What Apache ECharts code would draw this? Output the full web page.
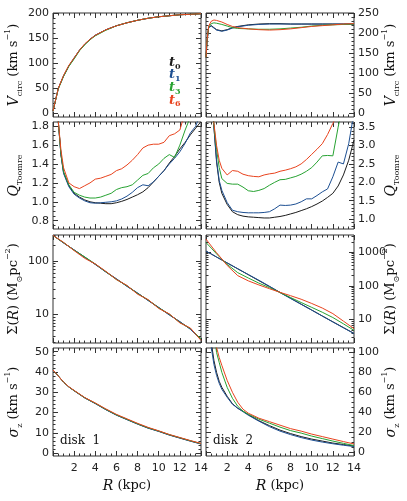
<!DOCTYPE html>
<html>
<head>
<meta charset="utf-8">
<script src="https://cdn.jsdelivr.net/npm/echarts@6/dist/echarts.min.js"></script>
<style>
  html, body { margin: 0; padding: 0; background: #fff; }
  #chart { width: 407px; height: 501px; }
</style>
</head>
<body>
<div id="chart"></div>
<script>
// ---- data (R in kpc) ----
const SNAPS = ['0', '1', '3', '6']

// disk 1 circular velocity
const R_VC1 = [0, 0.5, 1, 1.5, 2, 2.5, 3, 3.5, 4, 5, 6, 7, 8, 9, 10, 11, 12, 13, 14]
const VC1_T0 = [5, 50, 75, 95, 110, 126, 138, 148, 156, 167, 175, 181, 186, 190, 193, 195, 197, 198, 199]
const VC1_T1 = [5, 50, 75, 95, 111, 126, 138, 148, 156, 167, 175, 181, 186, 190, 193, 195, 197, 198, 199]
const VC1_T3 = [5, 49, 74, 94, 109, 125, 137, 147, 155, 166, 175, 181, 186, 190, 193, 195, 197, 198, 199]
const VC1_T6 = [5, 50, 76, 96, 111, 126, 139, 148, 156, 167, 175, 181, 186, 190, 193, 195, 197, 198, 199]

// disk 2 circular velocity
const R_VC2 = [0, 0.1, 0.25, 0.5, 0.75, 1, 1.5, 2, 2.5, 3, 4, 5, 6, 7, 8, 9, 10, 11, 12, 13, 14]
const VC2_T0 = [140, 180, 215, 219, 214, 209, 206, 209, 214, 217, 221, 223, 224, 224, 223, 223, 223, 223, 223, 223, 223]
const VC2_T1 = [140, 181, 214, 218, 213, 208, 205, 208, 213, 216, 220, 222, 223, 223, 223, 223, 223, 223, 223, 223, 223]
const VC2_T3 = [140, 182, 215, 224, 226, 225, 222, 218, 214, 212, 211, 210, 210, 211, 213, 215, 218, 220, 221, 222, 223]
const VC2_T6 = [140, 183, 218, 230, 233, 232, 228, 222, 217, 214, 211, 209, 208, 209, 211, 214, 217, 219, 221, 223, 224]

// disk 1 Toomre Q
const R_Q1 = [0.25, 0.5, 0.75, 1, 1.5, 2, 2.5, 3, 3.5, 4, 4.5, 5, 5.5, 6, 6.5, 7, 7.5, 8, 8.5, 9, 9.5, 10, 10.5, 11, 11.5, 12, 12.5, 13, 13.5, 14]
const Q1_T0 = [3.0, 1.85, 1.5, 1.31, 1.17, 1.09, 1.05, 1.02, 1.0, 0.99, 0.985, 0.98, 0.98, 0.99, 1.005, 1.025, 1.05, 1.075, 1.105, 1.15, 1.21, 1.27, 1.33, 1.41, 1.48, 1.56, 1.63, 1.71, 1.78, 1.85]
const Q1_T1 = [3.0, 1.85, 1.5, 1.3, 1.16, 1.08, 1.04, 1.01, 0.99, 0.985, 0.99, 0.995, 1.0, 1.01, 1.03, 1.06, 1.1, 1.15, 1.18, 1.17, 1.21, 1.27, 1.33, 1.4, 1.46, 1.53, 1.62, 1.73, 1.8, 1.95]
const Q1_T3 = [3.0, 1.85, 1.51, 1.32, 1.18, 1.1, 1.07, 1.05, 1.04, 1.04, 1.05, 1.07, 1.09, 1.13, 1.15, 1.16, 1.18, 1.23, 1.28, 1.3, 1.36, 1.4, 1.46, 1.5, 1.47, 1.6, 1.76, 1.9, 2.0, 2.1]
const Q1_T6 = [3.0, 1.85, 1.55, 1.36, 1.2, 1.16, 1.14, 1.17, 1.2, 1.24, 1.25, 1.27, 1.29, 1.33, 1.35, 1.39, 1.44, 1.5, 1.57, 1.6, 1.61, 1.61, 1.63, 1.7, 1.72, 1.76, 1.95, 2.1, 2.2, 2.3]

// disk 2 Toomre Q
const R_Q2 = [0.1, 0.25, 0.5, 0.75, 1, 1.25, 1.5, 2, 2.5, 3, 3.5, 4, 4.5, 5, 5.5, 6, 6.5, 7, 7.5, 8, 8.5, 9, 9.5, 10, 10.5, 11, 11.5, 12, 12.5, 13, 13.5, 14]
const Q2_T0 = [6, 5.5, 4.5, 3.5, 2.55, 2.0, 1.7, 1.4, 1.2, 1.12, 1.08, 1.06, 1.05, 1.04, 1.03, 1.03, 1.05, 1.07, 1.1, 1.14, 1.18, 1.23, 1.28, 1.34, 1.41, 1.49, 1.59, 1.7, 1.9, 2.2, 2.6, 3.15]
const Q2_T1 = [6, 5.5, 4.5, 3.5, 2.6, 2.05, 1.78, 1.45, 1.24, 1.2, 1.18, 1.17, 1.17, 1.17, 1.18, 1.2, 1.28, 1.38, 1.37, 1.38, 1.41, 1.47, 1.55, 1.55, 1.64, 1.74, 1.82, 2.15, 2.55, 2.5, 3.05, 3.9]
const Q2_T3 = [6, 5.5, 4.6, 3.55, 2.9, 2.4, 2.1, 1.97, 1.95, 1.95, 1.87, 1.77, 1.75, 1.78, 1.83, 1.92, 2.0, 2.07, 2.08, 2.12, 2.16, 2.22, 2.3, 2.4, 2.55, 2.72, 2.73, 2.72, 3.5, 4.2, 4.5, 4.8]
const Q2_T6 = [6, 5.5, 4.7, 3.6, 3.0, 2.6, 2.38, 2.2, 2.32, 2.3, 2.22, 2.18, 2.16, 2.15, 2.2, 2.23, 2.25, 2.3, 2.33, 2.37, 2.42, 2.5, 2.62, 2.76, 2.9, 3.05, 3.3, 3.6, 3.9, 4.2, 4.5, 4.8]

// disk 1 surface density
const R_S1 = [0, 1, 2, 3, 4, 5, 6, 7, 8, 9, 10, 11, 12, 13, 14]
const S1_T0 = [300, 218, 160, 118, 86, 63, 46, 34, 25, 18.5, 13.5, 10, 7.3, 5.4, 3.5]
const S1_T1 = [302, 216, 161, 117, 87, 62, 46.5, 33.5, 25.3, 18.2, 13.6, 9.8, 7.4, 5.3, 3.4]
const S1_T3 = [298, 220, 158, 119, 88, 63, 45, 34.5, 24.6, 18.8, 13.3, 10.2, 7.1, 5.5, 3.5]
const S1_T6 = [300, 222, 156, 112, 88, 64, 45, 35, 24, 19, 13, 10.3, 7.0, 5.6, 3.3]

// disk 2 surface density
const R_S2 = [0, 0.5, 1, 1.5, 2, 3, 4, 5, 6, 7, 8, 9, 10, 11, 12, 13, 14]
const S2_T0 = [1060, 870, 709, 580, 475, 318, 213, 142, 95, 64, 43, 28.6, 19.2, 12.8, 8.6, 5.8, 3.9]
const S2_T1 = [1060, 870, 709, 580, 475, 320, 215, 146, 97, 63, 42, 28.3, 19, 12.7, 8.5, 5.7, 3.85]
const S2_T3 = [1900, 1300, 880, 610, 430, 245, 170, 120, 88, 63, 45, 32, 23, 16.5, 11.5, 7.5, 4.8]
const S2_T6 = [2400, 1500, 950, 620, 400, 200, 140, 106, 82, 64, 51, 40, 30, 22, 15, 9, 5.4]

// disk 1 vertical dispersion
const R_SZ1 = [0, 0.5, 1, 1.5, 2, 3, 4, 5, 6, 7, 8, 9, 10, 11, 12, 13, 14]
const SZ1_T0 = [41, 38, 35, 32.6, 30.8, 27.3, 24.5, 21.5, 18.8, 16.6, 14.4, 12.4, 10.8, 9.0, 7.5, 6.0, 4.6]
const SZ1_T1 = [41, 38, 35, 32.6, 30.7, 27.2, 24.4, 21.4, 18.7, 16.5, 14.3, 12.3, 10.7, 8.9, 7.4, 5.9, 4.5]
const SZ1_T3 = [41, 38, 35, 32.6, 30.8, 27.3, 24.6, 21.6, 18.9, 16.7, 14.5, 12.5, 10.9, 9.1, 7.6, 6.1, 4.7]
const SZ1_T6 = [41, 38, 35, 32.7, 30.9, 27.4, 24.7, 21.8, 19.1, 16.9, 14.7, 12.7, 11.0, 9.2, 7.7, 6.2, 4.8]

// disk 2 vertical dispersion
const R_SZ2 = [0.25, 0.5, 0.75, 1, 1.25, 1.5, 2, 2.5, 3, 3.5, 4, 5, 6, 7, 8, 9, 10, 11, 12, 13, 14]
const SZ2_T0 = [150, 110, 92, 80, 71, 65, 56, 48.5, 44, 41, 37.5, 31.5, 26.5, 22, 18.5, 15.5, 13, 11, 9, 7.5, 6]
const SZ2_T1 = [140, 105, 88, 77, 69, 63, 55, 48, 44, 40.5, 37, 31, 25.5, 21, 17.5, 14.5, 12, 10, 8.3, 6.8, 5.5]
const SZ2_T3 = [180, 150, 120, 100, 90, 80, 65, 54, 46, 41, 38, 33, 29, 25, 21.5, 19, 16, 13.5, 11, 8.7, 6.5]
const SZ2_T6 = [200, 170, 135, 105, 95, 87, 72, 60, 50, 43, 39, 34, 30.5, 27, 23.5, 21, 18, 15.5, 13, 10.5, 8.1]

// axis tick labels
const X_LABELS = [2, 4, 6, 8, 10, 12, 14]
const VC1_TICKS = [0, 50, 100, 150, 200]
const VC2_TICKS = [0, 50, 100, 150, 200, 250]
const Q1_TICKS = [0.8, 1.0, 1.2, 1.4, 1.6, 1.8]
const Q2_TICKS = [1.0, 1.5, 2.0, 2.5, 3.0, 3.5]
const S1_TICKS = [10, 100]
const S2_TICKS = [10, 100, 1000]
const SZ1_TICKS = [0, 10, 20, 30, 40, 50]
const SZ2_TICKS = [0, 20, 40, 60, 80, 100]

const COLORS = ['#1c1c1c', '#1d4f92', '#27a232', '#e8431e']
const INK = '#333'
const SERIF = 'DejaVu Serif'

function steps(a, b, s) {
  const out = []
  for (let v = a; v <= b + 1e-9; v += s) out.push(Math.round(v * 1000) / 1000)
  return out
}
function logMinors(lo, hi) {
  const out = []
  for (let d = 1; d <= 1000; d *= 10) {
    for (let m = 2; m <= 9; m++) {
      const v = m * d
      if (v >= lo && v <= hi) out.push(Math.log10(v))
    }
  }
  return out
}

const RICH = {
  n: { fontFamily: SERIF, fontSize: 13, lineHeight: 20, color: '#111' },
  it: { fontFamily: SERIF, fontStyle: 'italic', fontSize: 14, lineHeight: 20, color: '#111' },
  sub: { fontFamily: SERIF, fontSize: 8, lineHeight: 11, verticalAlign: 'bottom', color: '#111' },
  sup: { fontFamily: SERIF, fontSize: 8, lineHeight: 11, verticalAlign: 'top', color: '#111' }
}
const T_VC = '{it|V}{sub|circ}{n| (km s}{sup|−1}{n|)}'
const T_Q = '{it|Q}{sub|Toomre}'
const T_S = '{n|Σ(}{it|R}{n|) (M}{sub|⊙}{n|pc}{sup|−2}{n|)}'
const T_SZ = '{it|σ}{sub|z}{n| (km s}{sup|−1}{n|)}'

const fmt1 = v => v.toFixed(1)
const fmt0 = v => String(v)
const fmtLog = v => String(Math.round(Math.pow(10, v)))

const PANELS = [
  { r: R_VC1, ys: [VC1_T0, VC1_T1, VC1_T3, VC1_T6], min: -7, max: 200.5, ticks: VC1_TICKS, minors: steps(0, 200, 10), fmt: fmt0, title: T_VC },
  { r: R_VC2, ys: [VC2_T0, VC2_T1, VC2_T3, VC2_T6], min: -8.5, max: 250.5, ticks: VC2_TICKS, minors: steps(0, 250, 10), fmt: fmt0, title: T_VC },
  { r: R_Q1, ys: [Q1_T0, Q1_T1, Q1_T3, Q1_T6], min: 0.712, max: 1.845, ticks: Q1_TICKS, minors: steps(0.75, 1.8, 0.05), fmt: fmt1, title: T_Q },
  { r: R_Q2, ys: [Q2_T0, Q2_T1, Q2_T3, Q2_T6], min: 0.73, max: 3.64, ticks: Q2_TICKS, minors: steps(0.8, 3.6, 0.1), fmt: fmt1, title: T_Q },
  { r: R_S1, ys: [S1_T0, S1_T1, S1_T3, S1_T6], log: true, min: 2.95, max: 305, ticks: S1_TICKS, fmt: fmtLog, title: T_S },
  { r: R_S2, ys: [S2_T0, S2_T1, S2_T3, S2_T6], log: true, min: 2.03, max: 3180, ticks: S2_TICKS, fmt: fmtLog, title: T_S },
  { r: R_SZ1, ys: [SZ1_T0, SZ1_T1, SZ1_T3, SZ1_T6], min: -1.4, max: 51.8, ticks: SZ1_TICKS, minors: steps(0, 50, 2), fmt: fmt0, title: T_SZ },
  { r: R_SZ2, ys: [SZ2_T0, SZ2_T1, SZ2_T3, SZ2_T6], min: -4, max: 104.5, ticks: SZ2_TICKS, minors: steps(0, 100, 5), fmt: fmt0, title: T_SZ }
]

const COLS = [{ left: 53, width: 148 }, { left: 206, width: 148 }]
const ROWS = [{ top: 13, height: 104 }, { top: 122, height: 107 }, { top: 235, height: 108 }, { top: 348, height: 108 }]

function tickAxis(grid, pos, min, max, ticks, len, labels, fmt, extra) {
  const isX = pos === 'top' || pos === 'bottom'
  return Object.assign({
    type: 'value', gridIndex: grid, position: pos, min: min, max: max,
    axisLine: { show: false, onZero: false },
    splitLine: { show: false },
    axisTick: { show: true, inside: true, length: len, customValues: ticks, lineStyle: { color: INK, width: 1 } },
    axisLabel: labels ? {
      show: true, customValues: labels, formatter: fmt,
      margin: isX ? 7 : 4, fontFamily: 'DejaVu Sans', fontSize: 11, color: '#222'
    } : { show: false },
    nameMoveOverlap: false
  }, extra || {})
}

const grids = [], xAxes = [], yAxes = [], series = []

PANELS.forEach((p, i) => {
  const col = COLS[i % 2], row = ROWS[Math.floor(i / 2)]
  const right = i % 2 === 1, bottom = i >= 6
  grids.push({
    left: col.left, top: row.top, width: col.width, height: row.height,
    show: true, borderColor: INK, borderWidth: 1, backgroundColor: 'transparent',
    outerBoundsMode: 'none'
  })
  const xi = xAxes.length, yi = yAxes.length
  // data axes (hidden)
  xAxes.push({ type: 'value', gridIndex: i, min: 0, max: 14, show: false, axisLine: { onZero: false } })
  yAxes.push({ type: p.log ? 'log' : 'value', logBase: 10, gridIndex: i, min: p.min, max: p.max, show: false, axisLine: { onZero: false } })

  // x ticks, both edges
  const xMaj = steps(0, 14, 2), xMin = steps(0, 14, 0.5)
  const xName = bottom ? {
    name: '{it|R}{n| (kpc)}', nameLocation: 'middle', nameGap: 20,
    nameTextStyle: { rich: RICH, lineHeight: 20 }
  } : {}
  xAxes.push(tickAxis(i, 'bottom', 0, 14, xMaj, 5, bottom ? X_LABELS : null, fmt0, xName))
  xAxes.push(tickAxis(i, 'bottom', 0, 14, xMin, 2.5, null))
  xAxes.push(tickAxis(i, 'top', 0, 14, xMaj, 5, null))
  xAxes.push(tickAxis(i, 'top', 0, 14, xMin, 2.5, null))

  // y ticks, both edges
  let lo = p.min, hi = p.max, maj = p.ticks, minr = p.minors
  if (p.log) {
    lo = Math.log10(p.min); hi = Math.log10(p.max)
    maj = p.ticks.map(v => Math.log10(v))
    minr = logMinors(p.min, p.max)
  }
  const side = right ? 'right' : 'left'
  const other = right ? 'left' : 'right'
  const yName = {
    name: p.title, nameLocation: 'middle', nameGap: right ? 27 : 29, nameRotate: 90,
    nameTextStyle: { rich: RICH, lineHeight: 20 }
  }
  yAxes.push(tickAxis(i, side, lo, hi, maj, 5, maj, p.fmt, yName))
  yAxes.push(tickAxis(i, side, lo, hi, minr, 2.5, null))
  yAxes.push(tickAxis(i, other, lo, hi, maj, 5, null))
  yAxes.push(tickAxis(i, other, lo, hi, minr, 2.5, null))

  p.ys.forEach((ys, k) => {
    series.push({
      type: 'line', xAxisIndex: xi, yAxisIndex: yi,
      data: p.r.map((r, j) => [r, ys[j]]),
      showSymbol: false, symbol: 'none', clip: true,
      lineStyle: { color: COLORS[k], width: 1 },
      z: 2 + k
    })
  })
})

// snapshot labels in the first panel and disk labels in the bottom panels
const graphic = SNAPS.map((s, k) => ({
  type: 'text', left: 169, top: 56 + k * 12.6,
  style: {
    text: '{a|t}{b|' + s + '}',
    rich: {
      a: { fontFamily: SERIF, fontStyle: 'italic', fontWeight: 'bold', fontSize: 13, lineHeight: 16, fill: COLORS[k] },
      b: { fontFamily: SERIF, fontWeight: 'bold', fontSize: 8, lineHeight: 10, verticalAlign: 'bottom', fill: COLORS[k] }
    }
  }
})).concat([
  { type: 'text', left: 60, top: 435, style: { text: 'disk  1', font: '12px "DejaVu Serif"', fill: '#111' } },
  { type: 'text', left: 213, top: 435, style: { text: 'disk  2', font: '12px "DejaVu Serif"', fill: '#111' } }
])

const chart = echarts.init(document.getElementById('chart'))
chart.setOption({
  backgroundColor: '#fff',
  animation: false,
  grid: grids,
  xAxis: xAxes,
  yAxis: yAxes,
  series: series,
  graphic: graphic
})
</script>
</body>
</html>
